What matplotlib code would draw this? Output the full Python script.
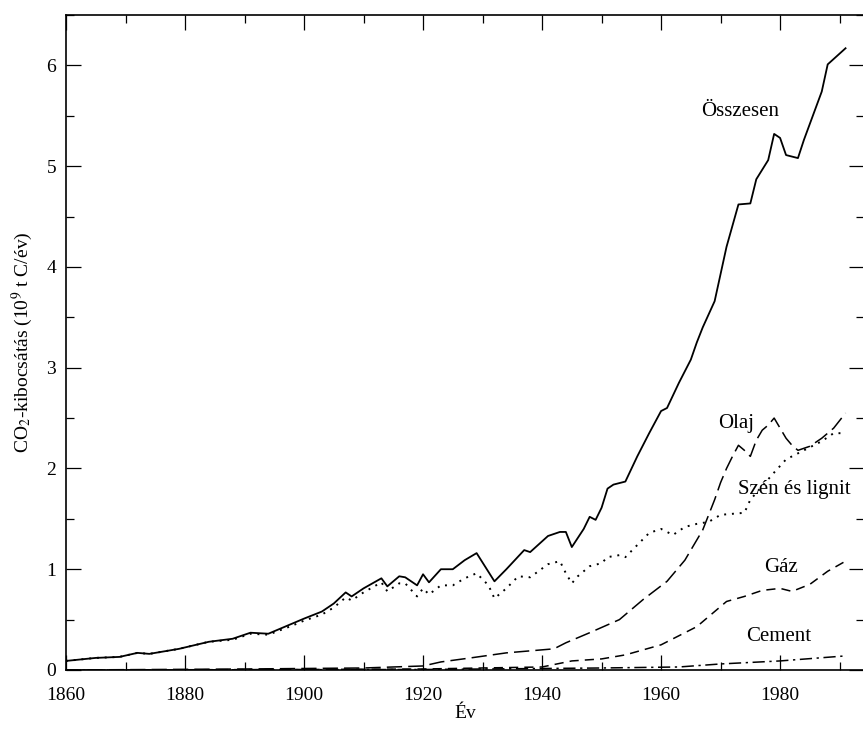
import matplotlib
matplotlib.use("Agg")
import matplotlib.pyplot as plt
from matplotlib.ticker import MultipleLocator

# values (10^9 t C / year)
total_years = [1860, 1865, 1869, 1872, 1874, 1879, 1884, 1888, 1891, 1894, 1898,
               1900, 1903, 1905, 1907, 1908, 1910, 1913, 1914, 1916, 1917, 1919,
               1920, 1921, 1923, 1925, 1927, 1929, 1932, 1934, 1937, 1938, 1941,
               1943, 1944, 1945, 1947, 1948, 1949, 1950, 1951, 1952, 1954, 1956,
               1958, 1960, 1961, 1963, 1965, 1966, 1967, 1969, 1971, 1973, 1975,
               1976, 1978, 1979, 1980, 1981, 1983, 1984, 1987, 1988, 1991]
total_vals = [0.09, 0.12, 0.13, 0.17, 0.16, 0.21, 0.28, 0.31, 0.37, 0.36, 0.46,
              0.51, 0.58, 0.66, 0.77, 0.73, 0.81, 0.91, 0.83, 0.93, 0.92, 0.84,
              0.95, 0.87, 1.00, 1.00, 1.09, 1.16, 0.88, 1.00, 1.19, 1.17, 1.33,
              1.37, 1.37, 1.22, 1.40, 1.52, 1.49, 1.61, 1.80, 1.84, 1.87, 2.12,
              2.35, 2.57, 2.60, 2.85, 3.08, 3.25, 3.40, 3.66, 4.20, 4.62, 4.63,
              4.87, 5.06, 5.32, 5.28, 5.11, 5.08, 5.26, 5.74, 6.01, 6.17]

coal_years = [1860, 1865, 1869, 1872, 1874, 1879, 1884, 1888, 1891, 1894, 1898,
              1900, 1903, 1905, 1907, 1908, 1910, 1913, 1914, 1916, 1917, 1919,
              1920, 1921, 1923, 1925, 1927, 1929, 1931, 1932, 1934, 1936, 1938,
              1941, 1943, 1944, 1945, 1946, 1948, 1950, 1951, 1953, 1954, 1956,
              1958, 1960, 1962, 1964, 1966, 1968, 1970, 1974, 1975, 1979, 1981,
              1984, 1987, 1989, 1991]
coal_vals = [0.09, 0.12, 0.13, 0.17, 0.16, 0.21, 0.28, 0.30, 0.36, 0.35, 0.44,
             0.49, 0.55, 0.62, 0.72, 0.69, 0.77, 0.87, 0.78, 0.86, 0.86, 0.73,
             0.81, 0.75, 0.84, 0.84, 0.91, 0.96, 0.84, 0.71, 0.81, 0.93, 0.92,
             1.05, 1.08, 0.96, 0.86, 0.93, 1.03, 1.06, 1.12, 1.14, 1.12, 1.24,
             1.36, 1.40, 1.34, 1.42, 1.45, 1.47, 1.54, 1.56, 1.69, 1.96, 2.09,
             2.18, 2.27, 2.35, 2.35]

oil_years = [1860, 1890, 1910, 1920, 1923, 1928, 1934, 1940, 1942, 1944, 1948,
             1953, 1957, 1961, 1964, 1967, 1969, 1970, 1971, 1972, 1973, 1974,
             1975, 1976, 1977, 1978, 1979, 1980, 1981, 1982, 1983, 1985, 1987,
             1989, 1991]
oil_vals = [0.0, 0.01, 0.02, 0.04, 0.08, 0.12, 0.17, 0.20, 0.21, 0.27, 0.37,
            0.50, 0.70, 0.88, 1.09, 1.39, 1.69, 1.86, 2.00, 2.12, 2.23, 2.18,
            2.12, 2.28, 2.38, 2.43, 2.50, 2.40, 2.30, 2.23, 2.18, 2.22, 2.30,
            2.40, 2.55]

gas_years = [1860, 1900, 1920, 1930, 1940, 1945, 1950, 1954, 1960, 1963, 1966,
             1968, 1971, 1974, 1977, 1980, 1982, 1985, 1988, 1991]
gas_vals = [0.0, 0.005, 0.01, 0.02, 0.03, 0.09, 0.11, 0.15, 0.25, 0.34, 0.43,
            0.53, 0.68, 0.73, 0.79, 0.81, 0.78, 0.85, 0.98, 1.08]

cement_years = [1860, 1920, 1950, 1963, 1970, 1980, 1991]
cement_vals = [0.0, 0.005, 0.02, 0.03, 0.06, 0.09, 0.14]

plt.rcParams["font.family"] = ["Liberation Serif", "DejaVu Serif"]
plt.rcParams["mathtext.fontset"] = "stix"

fig = plt.figure(figsize=(8.63, 7.38), dpi=100)
ax = fig.add_axes([66 / 863, 1 - 670 / 738, 798 / 863, 655 / 738])

ax.plot(total_years, total_vals, color="black", lw=1.3, ls="-")
ax.plot(coal_years, coal_vals, color="black", lw=1.4, ls=(0, (1, 3)))
ax.plot(oil_years, oil_vals, color="black", lw=1.1, ls=(0, (10, 4)))
ax.plot(gas_years, gas_vals, color="black", lw=1.1, ls=(0, (6, 4)))
ax.plot(cement_years, cement_vals, color="black", lw=1.1, ls=(0, (8, 3, 1.5, 3)))

ax.set_xlim(1860, 1994.1)
ax.set_ylim(0, 6.5)
ax.xaxis.set_major_locator(MultipleLocator(20))
ax.xaxis.set_minor_locator(MultipleLocator(10))
ax.yaxis.set_major_locator(MultipleLocator(1))
ax.yaxis.set_minor_locator(MultipleLocator(0.5))
ax.tick_params(which="both", direction="in", top=True, right=True, labelsize=14)
ax.tick_params(which="major", length=11, width=0.9)
ax.tick_params(which="minor", length=6, width=0.9)
ax.tick_params(axis="y", pad=7)
ax.tick_params(axis="x", pad=12)
for s in ax.spines.values():
    s.set_linewidth(1.2)

ax.set_xlabel("Év", fontsize=14, labelpad=1)
ax.set_ylabel("CO$_2$-kibocsátás (10$^9$ t C/év)", fontsize=14, labelpad=8)

lab = dict(fontsize=15, ha="center", va="center")
ax.text(1973.3, 5.54, "Összesen", **lab)
ax.text(1972.6, 2.45, "Olaj", **lab)
ax.text(1982.4, 1.79, "Szén és lignit", **lab)
ax.text(1980.2, 1.02, "Gáz", **lab)
ax.text(1979.7, 0.33, "Cement", **lab)

fig.savefig("out.png", dpi=100)
